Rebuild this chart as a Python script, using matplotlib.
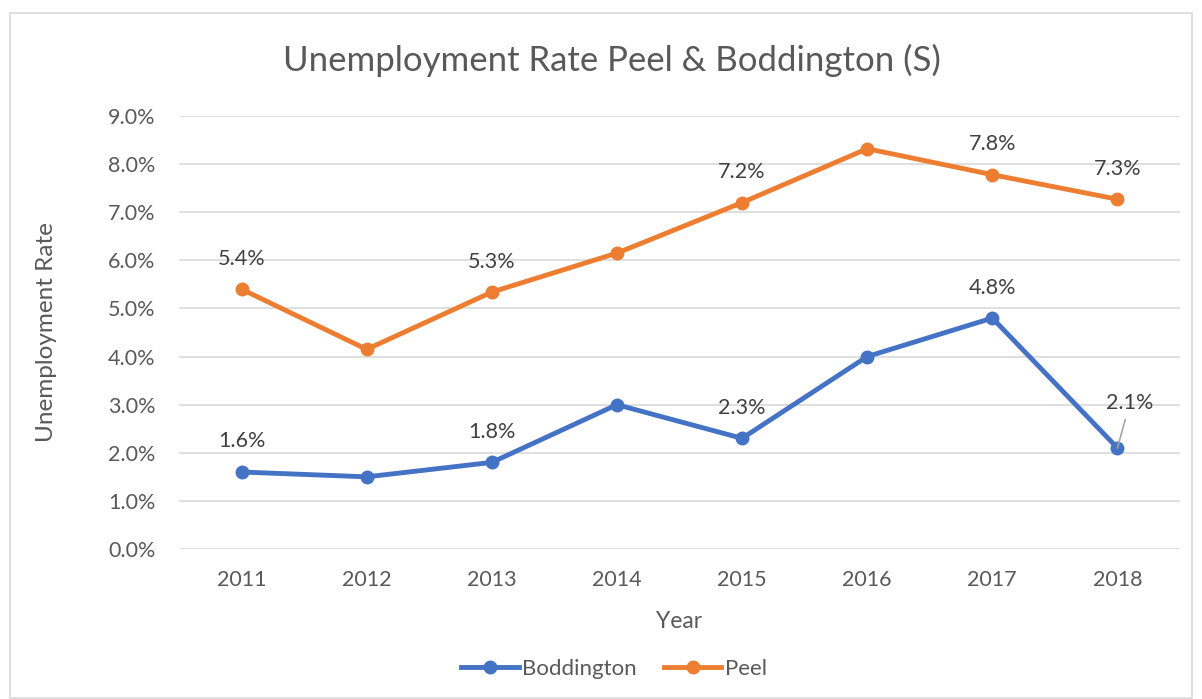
import matplotlib
matplotlib.use("Agg")
import matplotlib.pyplot as plt
from matplotlib.patches import Rectangle
from matplotlib.ticker import FuncFormatter, MultipleLocator

plt.rcParams['font.family'] = ['Lato', 'DejaVu Sans']

years = ["2011", "2012", "2013", "2014", "2015", "2016", "2017", "2018"]
boddington = [1.6, 1.5, 1.8, 3.0, 2.3, 4.0, 4.8, 2.1]
peel = [5.4, 4.15, 5.34, 6.15, 7.2, 8.32, 7.78, 7.27]
bodd_labels = {0: "1.6%", 2: "1.8%", 4: "2.3%", 6: "4.8%", 7: "2.1%"}
peel_labels = {0: "5.4%", 2: "5.3%", 4: "7.2%", 6: "7.8%", 7: "7.3%"}

W, H = 1202, 699
fig = plt.figure(figsize=(W / 100, H / 100), dpi=100)
fig.patches.append(Rectangle((10 / W, 1 - 698 / H), (1192 - 10) / W, (698 - 13) / H,
                             transform=fig.transFigure, fill=False,
                             edgecolor='#d9d9d9', lw=1.2))

ax = fig.add_axes([179 / W, 1 - 549 / H, (1180 - 179) / W, (549 - 116) / H])
x = list(range(len(years)))
blue = '#4472c4'
orange = '#ed7d31'
ax.plot(x, boddington, color=blue, lw=3.5, marker='o', ms=9, label='Boddington', zorder=3)
ax.plot(x, peel, color=orange, lw=3.5, marker='o', ms=9, label='Peel', zorder=3)

ax.set_xlim(-0.5, len(years) - 0.5)
ax.set_ylim(0, 9)
ax.yaxis.set_major_locator(MultipleLocator(1))
ax.yaxis.set_major_formatter(FuncFormatter(lambda v, p: f"{v:.1f}%"))
ax.set_xticks(x)
ax.set_xticklabels(years)
ax.grid(axis='y', color='#d9d9d9', lw=1.2)
ax.set_axisbelow(True)
for s in ['top', 'right', 'left', 'bottom']:
    ax.spines[s].set_visible(False)
ax.tick_params(length=0, labelsize=15.5, colors='#595959')
ax.tick_params(axis='y', pad=17)
ax.tick_params(axis='x', pad=15)

txtc = '#404040'
for i, t in bodd_labels.items():
    if i == 7:
        ax.annotate(t, (x[i], boddington[i]), xytext=(x[i] + 0.1, boddington[i] + 0.94),
                    ha='center', va='center', fontsize=15.5, color=txtc, zorder=5,
                    arrowprops=dict(arrowstyle='-', color='#a6a6a6', lw=1.2,
                                    shrinkA=3, shrinkB=0))
    else:
        ax.annotate(t, (x[i], boddington[i]), xytext=(0, 22), textcoords='offset points',
                    ha='center', va='center', fontsize=15.5, color=txtc)
for i, t in peel_labels.items():
    ax.annotate(t, (x[i], peel[i]), xytext=(0, 22), textcoords='offset points',
                ha='center', va='center', fontsize=15.5, color=txtc)

ax.set_xlabel("Year", fontsize=16.5, color='#595959')
ax.xaxis.set_label_coords(0.5, -(621 - 549) / 433)
ax.xaxis.label.set_va('center')
ax.set_ylabel("Unemployment Rate", fontsize=17.5, color='#595959')
ax.yaxis.set_label_coords(-(179 - 47) / 1001, 0.5)
ax.yaxis.label.set_va('center')
fig.text(612 / W, 1 - 60 / H, "Unemployment Rate Peel & Boddington (S)",
         ha='center', va='center', fontsize=25, color='#595959')

fig.legend(loc='center', bbox_to_anchor=(614 / W, 1 - 669 / H), ncol=2, frameon=False,
           fontsize=16, labelcolor='#595959', handlelength=2.6, columnspacing=1.2,
           handletextpad=0.15)

fig.savefig("out.png", dpi=100)
